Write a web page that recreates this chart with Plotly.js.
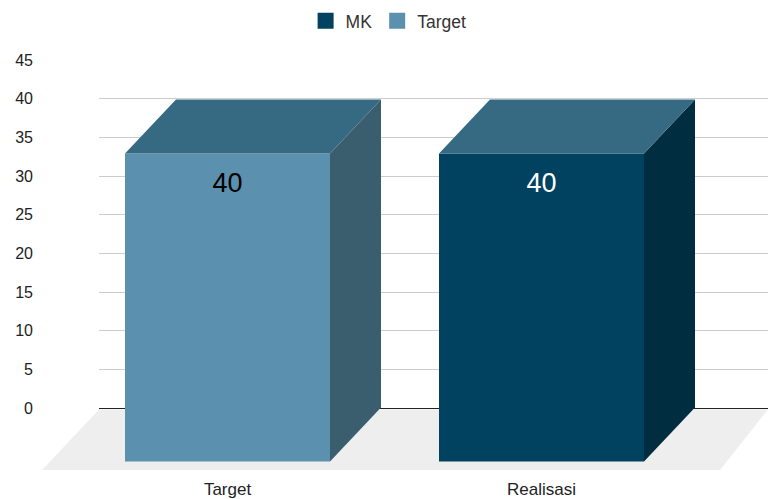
<!DOCTYPE html>
<html>
<head>
<meta charset="utf-8">
<script src="https://cdn.plot.ly/plotly-3.0.1.min.js"></script>
<style>html,body{margin:0;padding:0;background:#fff}#chart{width:768px;height:499px}</style>
</head>
<body>
<div id="chart"></div>
<script>
// Data
const categories = ["Target", "Realisasi"];
const values = [40, 40];
const barFill = ["#5b90ae", "#00425f"];
const barSide = ["#3b5e6f", "#012d40"];
const barTop = ["#366a82", "#366a82"];
const labelColors = ["#000000", "#ffffff"];
const legendNames = ["MK", "Target"];
const legendColors = ["#00425f", "#5b90ae"];
const yTicks = [0, 5, 10, 15, 20, 25, 30, 35, 40, 45];

// Pseudo-3D projection, in axis units of the second axes
const W = 768, H = 475;
const catPx = 314, unitPx = 7.7;
const x0Px = 227.5, y0Px = 461.5;
const barWidth = 205 / catPx;
const depthX = 51 / catPx, depthY = 54 / unitPx;
const xRange = [-x0Px / catPx, (W - x0Px) / catPx];
const yRange = [-(H - y0Px) / unitPx, y0Px / unitPx];

const traces = [];
const fillTrace = (xs, ys, color) => ({
  type: "scatter", mode: "lines", x: xs, y: ys, xaxis: "x2", yaxis: "y2",
  fill: "toself", fillcolor: color, line: {width: 0, color: color},
  hoverinfo: "skip", showlegend: false
});

categories.forEach((c, i) => {
  const l = i - barWidth / 2, r = i + barWidth / 2, v = values[i];
  traces.push(fillTrace([r, r + depthX, r + depthX, r, r], [0, depthY, v + depthY, v, 0], barSide[i]));
  traces.push(fillTrace([l, r, r + depthX, l + depthX, l], [v, v, v + depthY, v + depthY, v], barTop[i]));
  traces.push({
    type: "bar", x: [i], y: [v], width: [barWidth], xaxis: "x2", yaxis: "y2",
    marker: {color: barFill[i], line: {width: 0}}, hoverinfo: "x+y", showlegend: false
  });
});
traces.push({
  type: "scatter", mode: "text", x: categories.map((c, i) => i),
  y: values.map(v => v - 30 / unitPx - 0.1 - 1 / unitPx), xaxis: "x2", yaxis: "y2",
  text: values.map(String), textposition: "middle center",
  textfont: {family: "Liberation Sans, Arial, sans-serif", size: 27, color: labelColors},
  hoverinfo: "skip", showlegend: false
});
legendNames.forEach((n, i) => traces.push({
  type: "scatter", mode: "markers", x: [null], y: [null], name: n,
  marker: {symbol: "square", size: 16, color: legendColors[i]}
}));

const floorL = -x0Px / catPx + 99 / catPx;
const floorBottom = -(470 - y0Px) / unitPx;
const floorTop = depthY - 2 / unitPx;
const floorPath = [
  "M", floorL, floorTop, "L", xRange[1], floorTop,
  "L", xRange[1] - 48 / catPx, floorBottom, "L", floorL - 57 / catPx, floorBottom, "Z"
].join(" ");

const layout = {
  width: 768, height: 499,
  margin: {l: 0, r: 0, t: 0, b: 24, pad: 0},
  paper_bgcolor: "#ffffff", plot_bgcolor: "rgba(0,0,0,0)",
  font: {family: "Liberation Sans, Arial, sans-serif", size: 16, color: "#333333"},
  hovermode: "closest", barmode: "overlay",
  xaxis: {domain: [99 / W, 1], range: [0, 1], visible: false, fixedrange: true},
  yaxis: {
    domain: [(H - 409) / H, (H - 59) / H],
    range: [-1 / unitPx, 45 + 1 / unitPx], anchor: "x",
    tickvals: yTicks, ticktext: yTicks.map(String), ticks: "",
    showgrid: true, gridcolor: "#cccccc", gridwidth: 1,
    zeroline: true, zerolinecolor: "#222222", zerolinewidth: 1,
    showline: false, ticklabelstandoff: 65, tickfont: {size: 16, color: "#222222"}, fixedrange: true
  },
  xaxis2: {
    domain: [0, 1], range: xRange, anchor: "y2",
    tickvals: categories.map((c, i) => i), ticktext: categories,
    ticks: "", showgrid: false, zeroline: false, showline: false, ticklabelstandoff: 2,
    tickfont: {size: 17, color: "#222222"}, fixedrange: true
  },
  yaxis2: {
    domain: [0, 1], range: yRange, anchor: "x2",
    visible: false, fixedrange: true
  },
  shapes: [{
    type: "path", xref: "x2", yref: "y2", path: floorPath,
    fillcolor: "#eeeeee", line: {width: 0}, layer: "below"
  }],
  legend: {
    orientation: "h", x: 0.506, xanchor: "center", y: 0.994, yanchor: "top",
    font: {size: 17.5, color: "#333333"}, itemclick: false, itemdoubleclick: false,
    bgcolor: "rgba(0,0,0,0)"
  }
};

Plotly.newPlot("chart", traces, layout, {displayModeBar: false, responsive: false});
</script>
</body>
</html>
